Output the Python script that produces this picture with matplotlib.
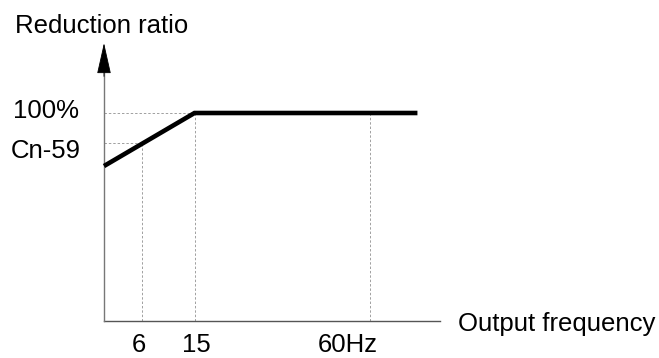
import numpy as np
import matplotlib
matplotlib.use("Agg")
import matplotlib.pyplot as plt

plt.rcParams['font.family'] = ['Liberation Sans', 'DejaVu Sans']

# ---- data (schematic) ----
curve_freq = [0, 15, 72]          # Hz
curve_ratio = [74.5, 100, 100]    # %
cn59_ratio = 85.5
full_ratio = 100
freq_marks = [6, 15, 60]
freq_labels = ["6", "15", "60Hz"]
y_title = "Reduction ratio"
x_title = "Output frequency"
y_labels = ["100%", "Cn-59"]

# schematic (non-linear) frequency axis
f_nodes = np.array([0, 6, 15, 60, 100], dtype=float)
p_nodes = np.array([0, 38, 90.5, 266.5, 266.5 + 40 * 176 / 45])

def fwd(f):
    return np.interp(f, f_nodes, p_nodes)

def inv(p):
    return np.interp(p, p_nodes, f_nodes)

W, H = 659, 358
fig = plt.figure(figsize=(W / 100, H / 100), dpi=100)
ax = fig.add_axes([104 / W, 37 / H, (440 - 104) / W, (321 - 43) / H])
ax.set_xscale('function', functions=(fwd, inv))
x_end = inv(336)
ax.set_xlim(0, x_end)
ax.set_ylim(0, 278 / 2.08)
ax.axis('off')

grid_kw = dict(color='#a0a0a0', lw=0.7, linestyle=(0, (2.5, 2)), zorder=1)
# horizontal guides
ax.plot([0, freq_marks[1]], [full_ratio, full_ratio], **grid_kw)
ax.plot([0, freq_marks[0]], [cn59_ratio, cn59_ratio], **grid_kw)
# vertical guides
ax.plot([freq_marks[0]] * 2, [0, cn59_ratio], **grid_kw)
ax.plot([freq_marks[1]] * 2, [0, full_ratio], **grid_kw)
ax.plot([freq_marks[2]] * 2, [0, full_ratio], **grid_kw)

# main curve
ax.plot(curve_freq, curve_ratio, color='black', lw=3.3, solid_capstyle='butt',
        solid_joinstyle='miter', zorder=3, clip_on=False)

# axes
ax.plot([0, x_end], [0, 0], color='#555555', lw=1.0, zorder=2, clip_on=False)
ax.plot([0, 0], [0, 278 / 2.08 - 12], color='#777777', lw=1.0, zorder=2, clip_on=False)
ax.annotate('', xy=(0, 1), xycoords='axes fraction', xytext=(0, 0.88),
            textcoords='axes fraction',
            arrowprops=dict(arrowstyle='-|>,head_length=2.0,head_width=0.45',
                            mutation_scale=10, fc='black', ec='black', lw=0.6,
                            shrinkA=0, shrinkB=0))

fs = 18.5
# y labels
ax.annotate(y_labels[0], xy=(0, full_ratio), xytext=(-18, -3.8),
            textcoords='offset points', ha='right', va='baseline', fontsize=fs)
ax.annotate(y_labels[1], xy=(0, cn59_ratio), xytext=(-16.5, -10.4),
            textcoords='offset points', ha='right', va='baseline', fontsize=fs)
# x labels
x_offsets = [-2.6, 1.7, -16.5]
for f, lab, dx in zip(freq_marks, freq_labels, x_offsets):
    ax.annotate(lab, xy=(f, 0), xytext=(dx, -22.3), textcoords='offset points',
                ha='center', va='baseline', fontsize=fs)

# titles
fig.text(15 / W, 1 - 33 / H, y_title, ha='left', va='baseline', fontsize=fs)
ax.annotate(x_title, xy=(x_end, 0), xytext=(13, -7.2), textcoords='offset points',
            ha='left', va='baseline', fontsize=fs)

fig.savefig('out.png', dpi=100)
